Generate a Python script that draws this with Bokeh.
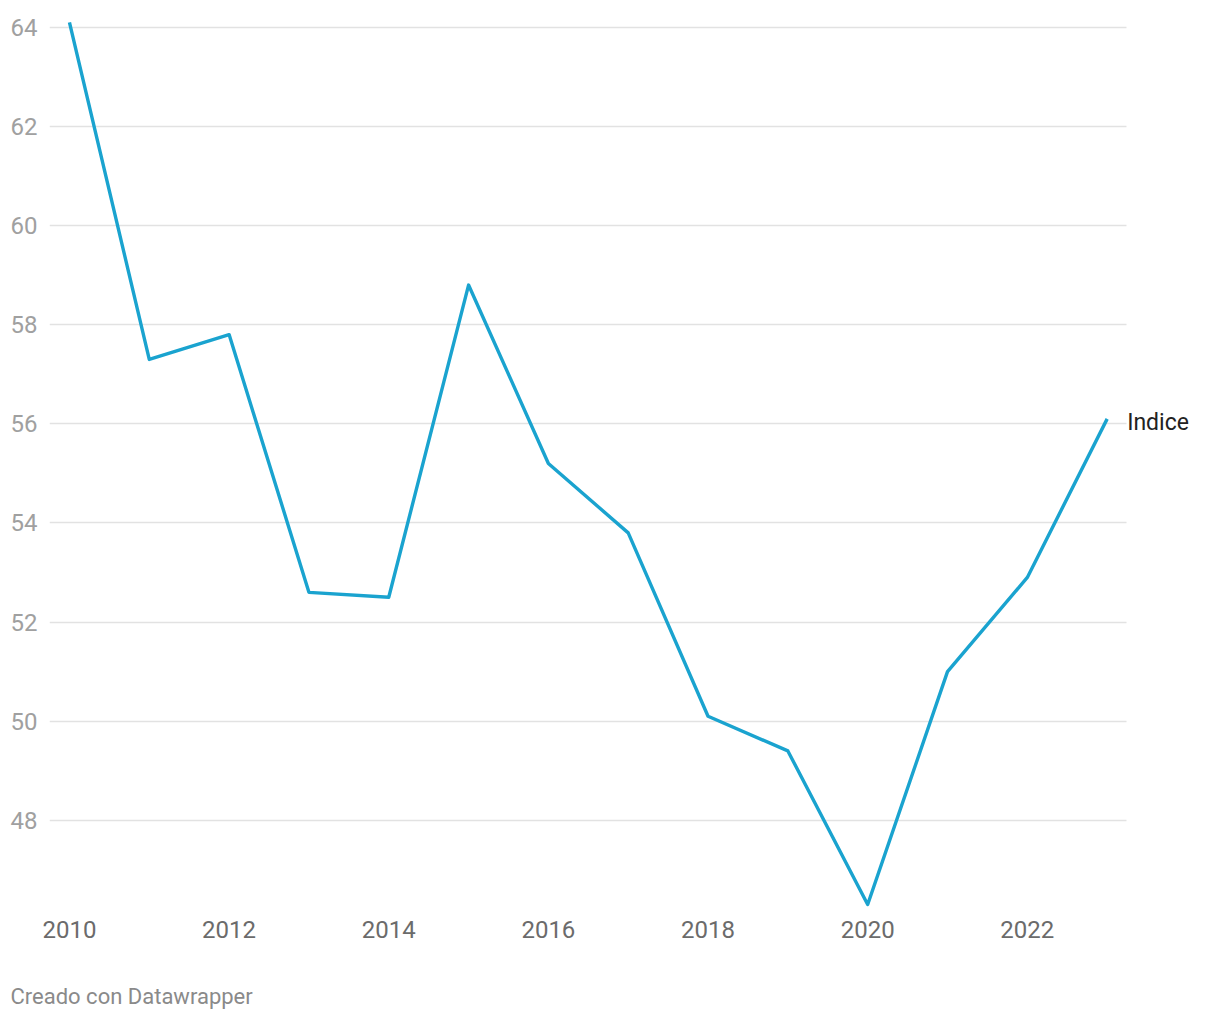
from bokeh.plotting import figure
from bokeh.models import Range1d, Label, FixedTicker, ColumnDataSource, Title
from bokeh.embed import file_html
from bokeh.resources import INLINE

years = [2010, 2011, 2012, 2013, 2014, 2015, 2016, 2017, 2018, 2019, 2020, 2021, 2022, 2023]
indice = [64.1, 57.3, 57.8, 52.6, 52.5, 58.8, 55.2, 53.8, 50.1, 49.4, 46.3, 51.0, 52.9, 56.1]
y_ticks = [48, 50, 52, 54, 56, 58, 60, 62, 64]
x_ticks = [2010, 2012, 2014, 2016, 2018, 2020, 2022]
series_name = "Indice"
footer = "Creado con Datawrapper"

FONT = "Roboto"
LINE = "#1aa3cf"
X0, X_GRID_END, X1 = 2009.75, 2023.24, 2024.42

p = figure(width=1220, height=1020, output_backend="svg", toolbar_location=None,
           x_range=Range1d(X0, X1), y_range=Range1d(46.18, 64.34),
           min_border_left=49, min_border_right=0, min_border_top=10, min_border_bottom=110)
p.outline_line_color = None
p.background_fill_color = "white"
p.border_fill_color = "white"

p.xgrid.grid_line_color = None
p.ygrid.grid_line_color = "#e2e2e2"
p.ygrid.grid_line_width = 1.3
try:
    p.ygrid.cross_bounds = (X0, X_GRID_END)
    manual_grid = False
except Exception:
    manual_grid = True

p.yaxis.ticker = FixedTicker(ticks=y_ticks)
p.xaxis.ticker = FixedTicker(ticks=x_ticks)
for ax in (p.xaxis, p.yaxis):
    ax.axis_line_color = None
    ax.major_tick_line_color = None
    ax.minor_tick_line_color = None
    ax.major_label_text_font = FONT
    ax.major_label_text_font_size = "24px"
p.yaxis.major_label_text_color = "#a0a0a0"
p.yaxis.major_label_standoff = 6
p.xaxis.major_label_text_color = "#6b6b6b"
p.xaxis.major_label_standoff = 4

if manual_grid:
    p.ygrid.grid_line_color = None
    p.segment(x0=[X0] * len(y_ticks), x1=[X_GRID_END] * len(y_ticks), y0=y_ticks, y1=y_ticks,
              line_color="#e2e2e2", line_width=1.3)

src = ColumnDataSource(dict(x=years, y=indice))
p.line("x", "y", source=src, line_color=LINE, line_width=3.4, line_join="round")

p.add_layout(Label(x=years[-1], y=indice[-1], x_offset=20, y_offset=-4, text=series_name,
                   text_font=FONT, text_font_size="23px", text_color="#222222",
                   text_baseline="middle", text_align="left"))

# blank spacer between the axis labels and the footer
spacer = Title(text=" ", align="left", text_font=FONT, text_font_size="22px",
               text_color="white", standoff=2)
p.add_layout(spacer, "below")

t = Title(text=footer, align="left", text_font=FONT, text_font_size="22px",
          text_color="#8a8a8a", text_font_style="normal", offset=-39, standoff=24)
p.add_layout(t, "below")

open("out.html", "w").write(file_html(p, INLINE))
